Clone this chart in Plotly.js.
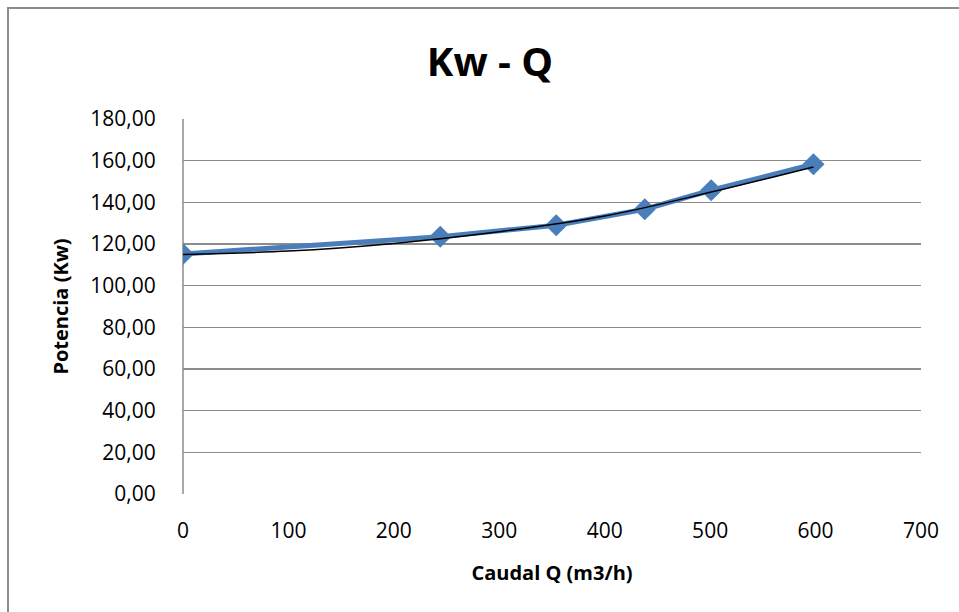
<!DOCTYPE html>
<html>
<head>
<meta charset="utf-8">
<script src="https://cdn.plot.ly/plotly-3.0.1.min.js"></script>
<style>
  html, body { margin: 0; padding: 0; background: #ffffff; overflow: hidden; }
  #frame { position: absolute; left: 7px; top: 7px; width: 2000px; height: 2000px;
           border-left: 2px solid #8c8c8c; border-top: 2px solid #8c8c8c; }
  #chart { position: absolute; left: 0; top: 0; width: 959px; height: 612px; }
</style>
</head>
<body>
<div id="frame"></div>
<div id="chart"></div>
<script>
// Data
const caudal   = [0, 244, 354, 438, 501, 598];               // Caudal Q (m3/h)
const potencia = [115.2, 123.5, 129.0, 136.7, 145.8, 158.3]; // Potencia (Kw)

// Black trend line
const trendQ = [0, 100, 200, 300, 400, 500, 598];
const trendP = [115.0, 116.6, 120.3, 125.9, 133.4, 144.8, 157.0];

const xTicks = [0, 100, 200, 300, 400, 500, 600, 700];
const yTicks = [0, 20, 40, 60, 80, 100, 120, 140, 160, 180];
const yTickText = ["0,00", "20,00", "40,00", "60,00", "80,00", "100,00", "120,00", "140,00", "160,00", "180,00"];

const FONT = "'Open Sans', 'Liberation Sans', sans-serif";

const traces = [
  {
    x: caudal, y: potencia,
    type: 'scatter', mode: 'lines+markers',
    line: { color: '#4A7EBB', width: 5 },
    marker: { symbol: 'diamond', size: 17, color: '#4A7EBB' },
    hoverinfo: 'x+y', showlegend: false
  },
  {
    x: trendQ, y: trendP,
    type: 'scatter', mode: 'lines',
    line: { color: '#000000', width: 1.5, shape: 'spline', smoothing: 1 },
    hoverinfo: 'skip', showlegend: false
  }
];

const layout = {
  width: 959, height: 612,
  paper_bgcolor: 'rgba(0,0,0,0)',
  plot_bgcolor: '#ffffff',
  margin: { l: 183, r: 38, t: 119, b: 118 },
  font: { family: FONT, color: '#000000', size: 21 },
  title: {
    text: '<b>Kw - Q</b>',
    font: { family: FONT, size: 40, color: '#000000' },
    x: 490 / 959, xref: 'container', xanchor: 'center',
    y: 1 - 62 / 612, yref: 'container', yanchor: 'middle'
  },
  // vertical axis line along the left edge of the plot area
  shapes: [{
    type: 'line', xref: 'paper', yref: 'paper', x0: 0, x1: 0, y0: 0, y1: 1,
    line: { color: '#8c8c8c', width: 1.5 }, layer: 'below'
  }],
  xaxis: {
    range: [0, 700],
    tickvals: xTicks,
    ticktext: xTicks.map(String),
    showgrid: false,
    zeroline: false,
    showline: false,
    ticks: 'outside', ticklen: 18, tickwidth: 1, tickcolor: 'rgba(255,255,255,0)',
    tickfont: { family: FONT, size: 21, color: '#000000' },
    title: { text: '<b>Caudal Q (m3/h)</b>', font: { family: FONT, size: 20, color: '#000000' }, standoff: 22 },
    automargin: false, fixedrange: true
  },
  yaxis: {
    range: [0, 180],
    tickvals: yTicks,
    ticktext: yTickText,
    showgrid: true, gridcolor: '#8c8c8c', gridwidth: 1.5,
    zeroline: false,
    showline: false,
    ticks: 'outside', ticklen: 22, tickwidth: 1, tickcolor: 'rgba(255,255,255,0)',
    tickfont: { family: FONT, size: 21, color: '#000000' },
    title: { text: '<b>Potencia (Kw)</b>', font: { family: FONT, size: 20, color: '#000000' }, standoff: 16 },
    automargin: false, fixedrange: true
  }
};

Plotly.newPlot('chart', traces, layout, { displayModeBar: false, staticPlot: true });
</script>
</body>
</html>
